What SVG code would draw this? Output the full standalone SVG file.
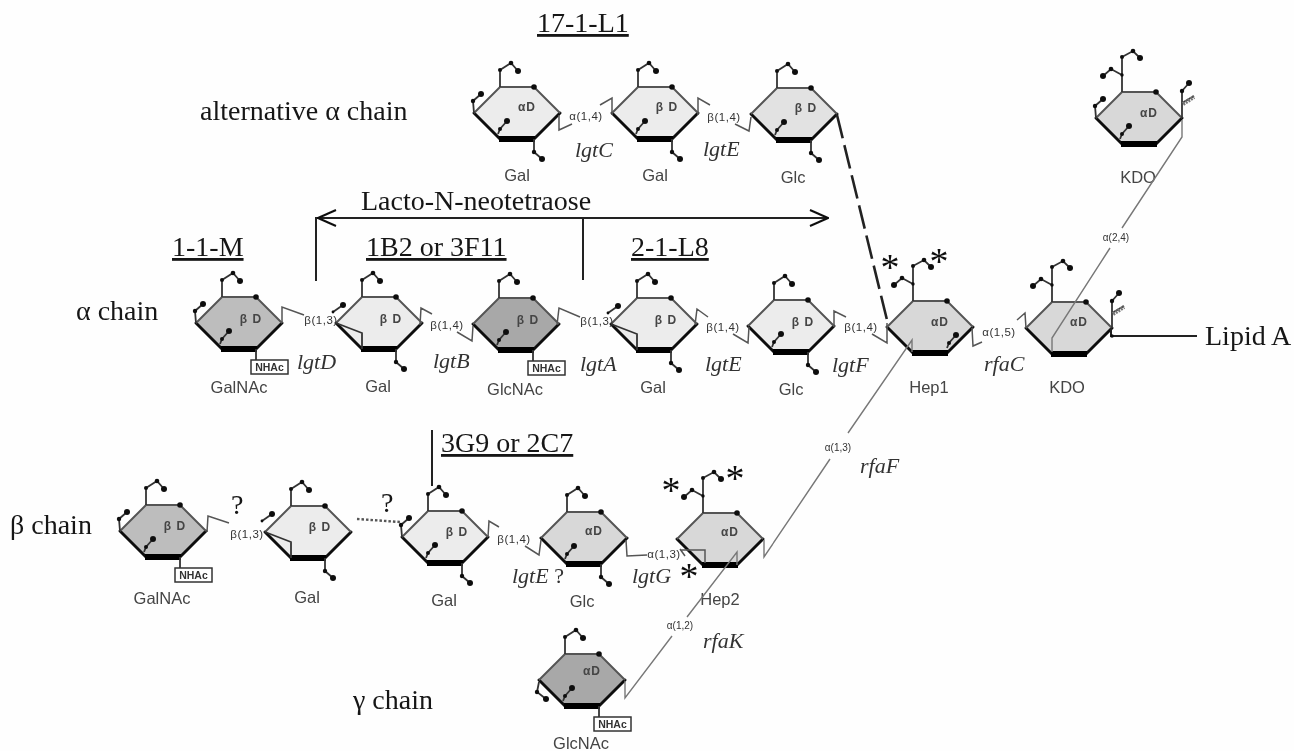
<svg xmlns="http://www.w3.org/2000/svg" width="1294" height="751" viewBox="0 0 1294 751">
<style>
text{font-family:"Liberation Sans",Arial,sans-serif}
.bg{fill:#fefefe}
.e{fill:none;stroke:#555;stroke-width:2}
.k{fill:none;stroke:#111;stroke-width:3;stroke-linecap:round}
.kb{fill:none;stroke:#000;stroke-width:6}
.s{fill:none;stroke:#333;stroke-width:1.8}
.dot{fill:#111}
.l1{fill:#ececec}.l2{fill:#e2e2e2}.m{fill:#d8d8d8}.d1{fill:#bdbdbd}.d2{fill:#a8a8a8}
.t{font-family:"Liberation Serif","Times New Roman",serif;font-size:28px;fill:#151515}
.u{text-decoration:underline}
.i{font-family:"Liberation Serif","Times New Roman",serif;font-style:italic;font-size:22px;fill:#333}
.n{font-size:16.5px;fill:#444;text-anchor:middle}
.c{font-size:12px;font-weight:bold;fill:#444;text-anchor:middle;letter-spacing:1px}
.b{font-size:11.5px;fill:#333;letter-spacing:.5px;text-anchor:middle}
.b2{font-size:10px;fill:#333;text-anchor:middle}
.a{font-family:"Liberation Serif","Times New Roman",serif;font-size:38px;fill:#111;text-anchor:middle}
.na{font-size:10.5px;font-weight:bold;fill:#333;text-anchor:middle}
.lk{fill:none;stroke:#555;stroke-width:1.5}
.ln{fill:none;stroke:#222;stroke-width:2}
.th{fill:none;stroke:#777;stroke-width:1.4}
.box{fill:#fff;stroke:#333;stroke-width:1.5}
</style>
<defs>
<filter id="soft" x="0" y="0" width="100%" height="100%"><feGaussianBlur stdDeviation="0.45"/></filter>
<g id="base">
<path class="k" d="M-43 0L-17 26M17 26L43 0"/><path class="kb" d="M-18 26H18"/>
</g>
<path id="hex" d="M-43 0L-17-26H17L43 0L17 26H-17Z"/>
<path id="hexo" class="e" d="M-43 0L-17-26H17L43 0"/>
<g id="std">
<use href="#base"/><use href="#hexo"/>
<circle class="dot" cx="17" cy="-26" r="2.8"/>
</g>
<g id="top">
<path class="s" d="M-17-26V-43L-6-50L1-42"/>
<circle class="dot" cx="-17" cy="-43" r="2"/><circle class="dot" cx="-6" cy="-50" r="2.3"/><circle class="dot" cx="1" cy="-42" r="3"/>
</g>
<g id="top2">
<path class="s" d="M-17-26V-61L-6-67L1-60M-17-43L-28-49L-36-42"/>
<circle class="dot" cx="-17" cy="-61" r="2"/><circle class="dot" cx="-6" cy="-67" r="2.3"/><circle class="dot" cx="1" cy="-60" r="3"/>
<circle class="dot" cx="-17" cy="-43" r="1.7"/><circle class="dot" cx="-28" cy="-49" r="2.3"/><circle class="dot" cx="-36" cy="-42" r="3"/>
</g>
<g id="inner">
<path class="s" d="M-19 21L-17 16L-10 8"/><circle class="dot" cx="-17" cy="16" r="2"/><circle class="dot" cx="-10" cy="8" r="3"/>
</g>
<g id="lt">
<path class="s" d="M-43 0L-44-12L-36-19"/><circle class="dot" cx="-44" cy="-12" r="2.2"/><circle class="dot" cx="-36" cy="-19" r="3"/>
</g>
<g id="ltb">
<path class="s" d="M-46-11L-36-18"/><circle class="dot" cx="-46" cy="-11" r="1.4"/><circle class="dot" cx="-36" cy="-18" r="3"/>
<path class="s" d="M-43 0L-17 10V26"/>
</g>
<g id="br">
<path class="s" d="M17 26V39L25 46"/><circle class="dot" cx="17" cy="39" r="2.2"/><circle class="dot" cx="25" cy="46" r="3"/>
</g>
<g id="nhac">
<path class="s" d="M17 26V37"/><rect class="box" x="12" y="37" width="37" height="14"/><text class="na" x="30.5" y="48">NHAc</text>
</g>
<g id="kr">
<path class="s" d="M43 0V-27L50-35M43-15L55-22"/><circle class="dot" cx="43" cy="-27" r="2.2"/><circle class="dot" cx="50" cy="-35" r="3"/>
<path d="M44-14L55-21" fill="none" stroke="#777" stroke-width="4" stroke-dasharray="2 1"/>
</g>
<marker id="open" viewBox="0 0 20 20" refX="19" refY="10" markerWidth="20" markerHeight="20" markerUnits="userSpaceOnUse" orient="auto-start-reverse"><path d="M1 2L19 10L1 18" fill="none" stroke="#111" stroke-width="2"/></marker>
</defs>
<rect class="bg" width="1294" height="751"/>
<g filter="url(#soft)">

<g id="alt-gal1" transform="translate(517 113)"><use class="l1" href="#hex"/><use href="#std"/><use href="#top"/><use href="#inner"/><use href="#lt"/><use href="#br"/><text class="c" x="10" y="-2">αD</text><text class="n" x="0" y="68">Gal</text></g>
<g id="alt-gal2" transform="translate(655 113)"><use class="l1" href="#hex"/><use href="#std"/><use href="#top"/><use href="#inner"/><use href="#br"/><text class="c" x="12" y="-2">β D</text><text class="n" x="0" y="68">Gal</text></g>
<g id="alt-glc" transform="translate(794 114)"><use class="l2" href="#hex"/><use href="#std"/><use href="#top"/><use href="#inner"/><use href="#br"/><text class="c" x="12" y="-2">β D</text><text class="n" x="-1" y="69">Glc</text></g>

<g id="a-galnac" transform="translate(239 323)"><use class="d1" href="#hex"/><use href="#std"/><use href="#top"/><use href="#inner"/><use href="#lt"/><use href="#nhac"/><text class="c" x="12" y="0">β D</text><text class="n" x="0" y="70">GalNAc</text></g>
<g id="a-gal1" transform="translate(379 323)"><use class="l1" href="#hex"/><use href="#std"/><use href="#top"/><use href="#ltb"/><use href="#br"/><text class="c" x="12" y="0">β D</text><text class="n" x="-1" y="69">Gal</text></g>
<g id="a-glcnac" transform="translate(516 324)"><use class="d2" href="#hex"/><use href="#std"/><use href="#top"/><use href="#inner"/><use href="#nhac"/><text class="c" x="12" y="0">β D</text><text class="n" x="-1" y="71">GlcNAc</text></g>
<g id="a-gal2" transform="translate(654 324)"><use class="l1" href="#hex"/><use href="#std"/><use href="#top"/><use href="#ltb"/><use href="#br"/><text class="c" x="12" y="0">β D</text><text class="n" x="-1" y="69">Gal</text></g>
<g id="a-glc" transform="translate(791 326)"><use class="l1" href="#hex"/><use href="#std"/><use href="#top"/><use href="#inner"/><use href="#br"/><text class="c" x="12" y="0">β D</text><text class="n" x="0" y="69">Glc</text></g>
<g id="hep1" transform="translate(930 327)"><use class="m" href="#hex"/><use href="#std"/><use href="#top2"/><use href="#inner" transform="translate(36 0)"/><text class="c" x="10" y="-1">αD</text><text class="n" x="-1" y="66">Hep1</text></g>
<g id="kdo1" transform="translate(1069 328)"><use class="m" href="#hex"/><use href="#std"/><use href="#top2"/><use href="#kr"/><text class="c" x="10" y="-2">αD</text><text class="n" x="-2" y="65">KDO</text></g>
<g id="kdo2" transform="translate(1139 118)"><use class="m" href="#hex"/><use href="#std"/><use href="#top2"/><use href="#lt"/><use href="#inner"/><use href="#kr"/><text class="c" x="10" y="-1">αD</text><text class="n" x="-1" y="65">KDO</text></g>

<g id="b-galnac" transform="translate(163 531)"><use class="d1" href="#hex"/><use href="#std"/><use href="#top"/><use href="#inner"/><use href="#lt"/><use href="#nhac"/><text class="c" x="12" y="-1">β D</text><text class="n" x="-1" y="73">GalNAc</text></g>
<g id="b-gal1" transform="translate(308 532)"><use class="l1" href="#hex"/><use href="#std"/><use href="#top"/><use href="#ltb"/><use href="#br"/><text class="c" x="12" y="-1">β D</text><text class="n" x="-1" y="71">Gal</text></g>
<g id="b-gal2" transform="translate(445 537)"><use class="l1" href="#hex"/><use href="#std"/><use href="#top"/><use href="#inner"/><use href="#lt"/><use href="#br"/><text class="c" x="12" y="-1">β D</text><text class="n" x="-1" y="69">Gal</text></g>
<g id="b-glc" transform="translate(584 538)"><use class="m" href="#hex"/><use href="#std"/><use href="#top"/><use href="#inner"/><use href="#br"/><text class="c" x="10" y="-3">αD</text><text class="n" x="-2" y="69">Glc</text></g>
<g id="hep2" transform="translate(720 539)"><use class="m" href="#hex"/><use href="#std"/><use href="#top2"/><text class="c" x="10" y="-3">αD</text><text class="n" x="0" y="66">Hep2</text></g>
<g id="g-glcnac" transform="translate(582 680)"><use class="d2" href="#hex"/><use href="#std"/><use href="#top"/><use href="#inner"/><use href="#nhac"/><path class="s" d="M-43 2L-45 12L-36 19"/><circle class="dot" cx="-45" cy="12" r="2.2"/><circle class="dot" cx="-36" cy="19" r="3"/><text class="c" x="10" y="-5">αD</text><text class="n" x="-1" y="69">GlcNAc</text></g>

<g id="connectors">
<path class="lk" d="M559 115V130L572 124M600 105L612 98V115M698 115V98L710 105M735 124L749 131L751 117"/>
<path class="lk" d="M282 323V307L304 315M420 325L421 308L432 314M457 332L472 341L473 326M557 325L559 308L580 317M695 325L697 309L708 317M733 334L748 343L749 327M834 327V311L846 317M872 334L887 343V323M972 328L973 346L982 342M1017 320L1025 313L1026 328"/>
<path class="lk" d="M207 532L208 516L229 523M488 537L489 521L499 527M525 546L539 555L541 540M626 540L627 556L647 555M680 550H705V563M680 549L685 556"/>
<path d="M837 115L887 320" fill="none" stroke="#222" stroke-width="2.6" stroke-dasharray="24 7"/>
<path d="M357 519L400 522" fill="none" stroke="#555" stroke-width="2.4" stroke-dasharray="2.5 2"/>
<path class="th" d="M912 352V340L848 433M830 459L764 557V540"/>
<path class="th" d="M737 565V552L687 617M672 636L625 698V681"/>
<path class="th" d="M1052 352V338L1110 248M1122 228L1182 137V120"/>
<path class="ln" d="M1111 328V336H1197"/>
<circle class="dot" cx="1112" cy="336" r="1.8"/>
<path class="ln" d="M316 281V218H828" marker-end="url(#open)"/>
<path class="ln" d="M318 218H340" marker-start="url(#open)"/>
<path class="ln" d="M583 218V280M432 430V486"/>
<text class="b" x="586" y="120">α(1,4)</text>
<text class="b" x="724" y="121">β(1,4)</text>
<text class="b" x="321" y="324">β(1,3)</text>
<text class="b" x="447" y="329">β(1,4)</text>
<text class="b" x="597" y="325">β(1,3)</text>
<text class="b" x="723" y="331">β(1,4)</text>
<text class="b" x="861" y="331">β(1,4)</text>
<text class="b" x="999" y="336">α(1,5)</text>
<text class="b" x="247" y="538">β(1,3)</text>
<text class="b" x="514" y="543">β(1,4)</text>
<text class="b" x="664" y="558">α(1,3)</text>
<text class="b2" x="838" y="451">α(1,3)</text>
<text class="b2" x="680" y="629">α(1,2)</text>
<text class="b2" x="1116" y="241">α(2,4)</text>
</g>

<text class="t u" x="537" y="32">17-1-L1</text>
<text class="t" x="200" y="120">alternative α chain</text>
<text class="t" x="361" y="210">Lacto-N-neotetraose</text>
<text class="t u" x="172" y="256">1-1-M</text>
<text class="t u" x="366" y="256">1B2 or 3F11</text>
<text class="t u" x="631" y="256">2-1-L8</text>
<text class="t" x="76" y="320">α chain</text>
<text class="t" x="1205" y="345">Lipid A</text>
<text class="t u" x="441" y="452">3G9 or 2C7</text>
<text class="t" x="10" y="534">β chain</text>
<text class="t" x="353" y="709">γ chain</text>
<text class="t" x="231" y="514">?</text>
<text class="t" x="381" y="512">?</text>

<text class="i" x="575" y="157">lgtC</text>
<text class="i" x="703" y="156">lgtE</text>
<text class="i" x="297" y="369">lgtD</text>
<text class="i" x="433" y="368">lgtB</text>
<text class="i" x="580" y="371">lgtA</text>
<text class="i" x="705" y="371">lgtE</text>
<text class="i" x="832" y="372">lgtF</text>
<text class="i" x="984" y="371">rfaC</text>
<text class="i" x="860" y="473">rfaF</text>
<text class="i" x="512" y="583">lgtE<tspan style="font-style:normal"> ?</tspan></text>
<text class="i" x="632" y="583">lgtG</text>
<text class="i" x="703" y="648">rfaK</text>

<text class="a" x="890" y="280">*</text>
<text class="a" x="939" y="274">*</text>
<text class="a" x="671" y="503">*</text>
<text class="a" x="735" y="491">*</text>
<text class="a" x="689" y="589">*</text>
</g>
</svg>
